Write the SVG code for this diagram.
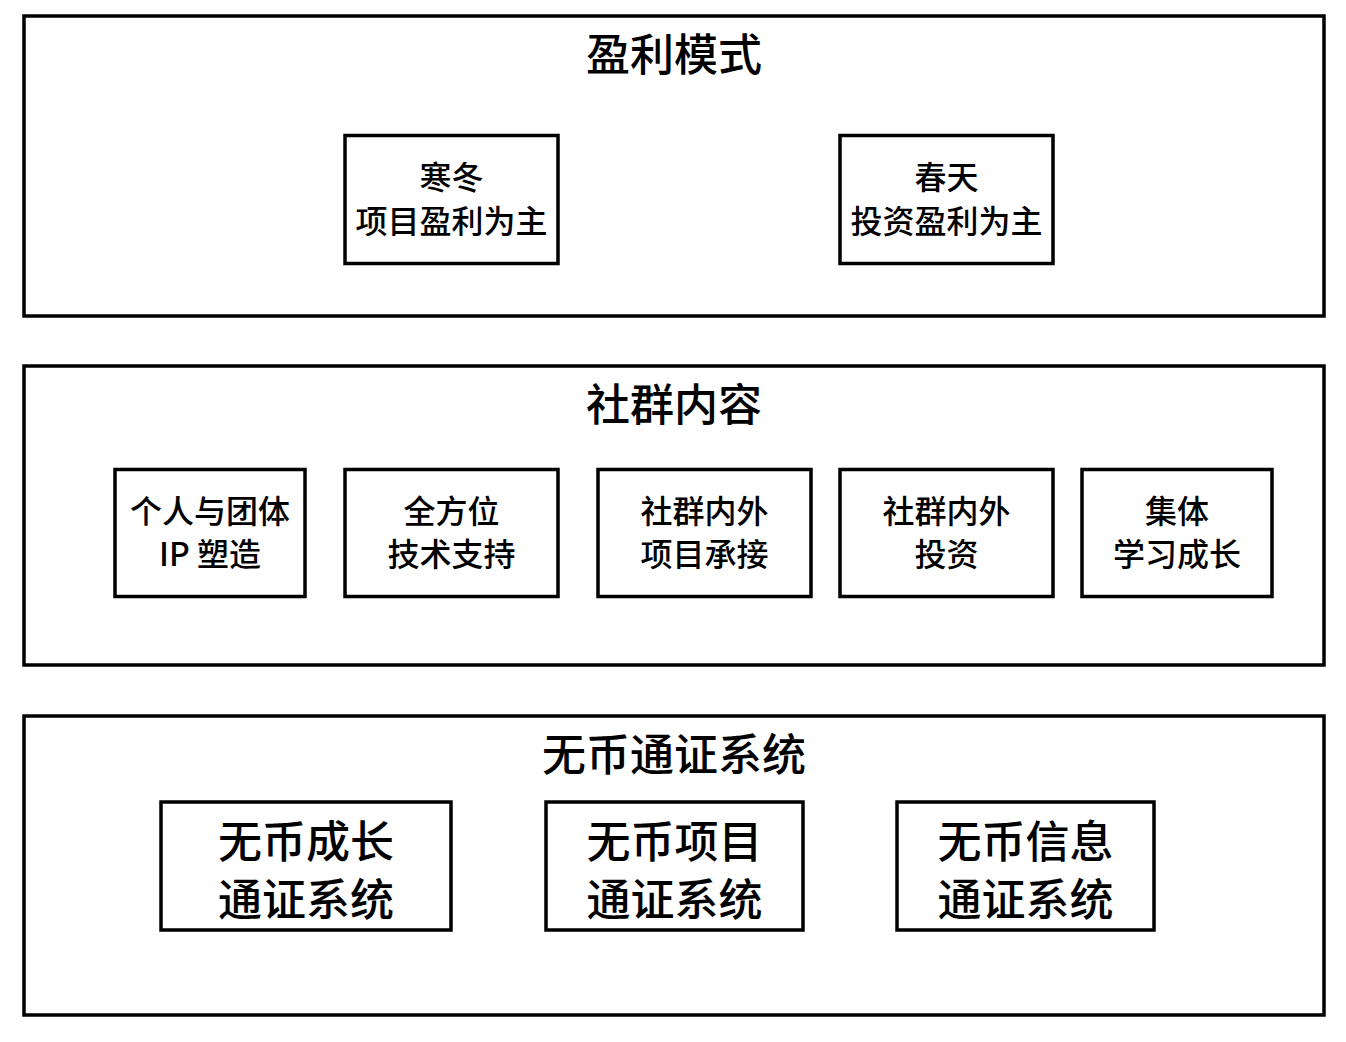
<svg xmlns="http://www.w3.org/2000/svg" width="1346" height="1042" viewBox="0 0 1346 1042">
<style>
.panel{fill:#fff;stroke:#000;stroke-width:3.5}
.box{fill:#fff;stroke:#000;stroke-width:3.5}
text{font-family:"Noto Sans CJK SC","Liberation Sans",sans-serif;fill:#000;text-anchor:middle;dominant-baseline:central}
.title{font-size:44px;font-weight:500}
.t{font-size:32px;font-weight:500}
.big{font-size:44px;font-weight:500}
</style>
<rect width="1346" height="1042" fill="#fff"/>
<g id="panel-profit">
<rect class="panel" x="24" y="16" width="1300" height="300"/>
<text class="title" x="674" y="52">盈利模式</text>
</g>
<g id="node-winter">
<rect class="box" x="345" y="135.5" width="213" height="128"/>
<text class="t" x="451.5" y="175">寒冬</text>
<text class="t" x="451.5" y="219">项目盈利为主</text>
</g>
<g id="node-spring">
<rect class="box" x="840" y="135.5" width="213" height="128"/>
<text class="t" x="946.5" y="175">春天</text>
<text class="t" x="946.5" y="219">投资盈利为主</text>
</g>
<g id="panel-community">
<rect class="panel" x="24" y="366" width="1300" height="299"/>
<text class="title" x="674" y="402">社群内容</text>
</g>
<g id="node-ip">
<rect class="box" x="115" y="469.5" width="190" height="127"/>
<text class="t" x="210" y="509">个人与团体</text>
<text class="t" x="210" y="552">IP 塑造</text>
</g>
<g id="node-tech">
<rect class="box" x="345" y="469.5" width="213" height="127"/>
<text class="t" x="451.5" y="509">全方位</text>
<text class="t" x="451.5" y="552">技术支持</text>
</g>
<g id="node-project">
<rect class="box" x="598" y="469.5" width="213" height="127"/>
<text class="t" x="704.5" y="509">社群内外</text>
<text class="t" x="704.5" y="552">项目承接</text>
</g>
<g id="node-invest">
<rect class="box" x="840" y="469.5" width="213" height="127"/>
<text class="t" x="946.5" y="509">社群内外</text>
<text class="t" x="946.5" y="552">投资</text>
</g>
<g id="node-learn">
<rect class="box" x="1082" y="469.5" width="190" height="127"/>
<text class="t" x="1177" y="509">集体</text>
<text class="t" x="1177" y="552">学习成长</text>
</g>
<g id="panel-token">
<rect class="panel" x="24" y="716" width="1300" height="299"/>
<text class="title" x="674" y="752">无币通证系统</text>
</g>
<g id="node-growth">
<rect class="box" x="161" y="802" width="290" height="128"/>
<text class="big" x="306" y="839">无币成长</text>
<text class="big" x="306" y="897">通证系统</text>
</g>
<g id="node-proj-token">
<rect class="box" x="546" y="802" width="257" height="128"/>
<text class="big" x="674.5" y="839">无币项目</text>
<text class="big" x="674.5" y="897">通证系统</text>
</g>
<g id="node-info">
<rect class="box" x="897" y="802" width="257" height="128"/>
<text class="big" x="1025.5" y="839">无币信息</text>
<text class="big" x="1025.5" y="897">通证系统</text>
</g>
<g id="connectors"></g>
</svg>
